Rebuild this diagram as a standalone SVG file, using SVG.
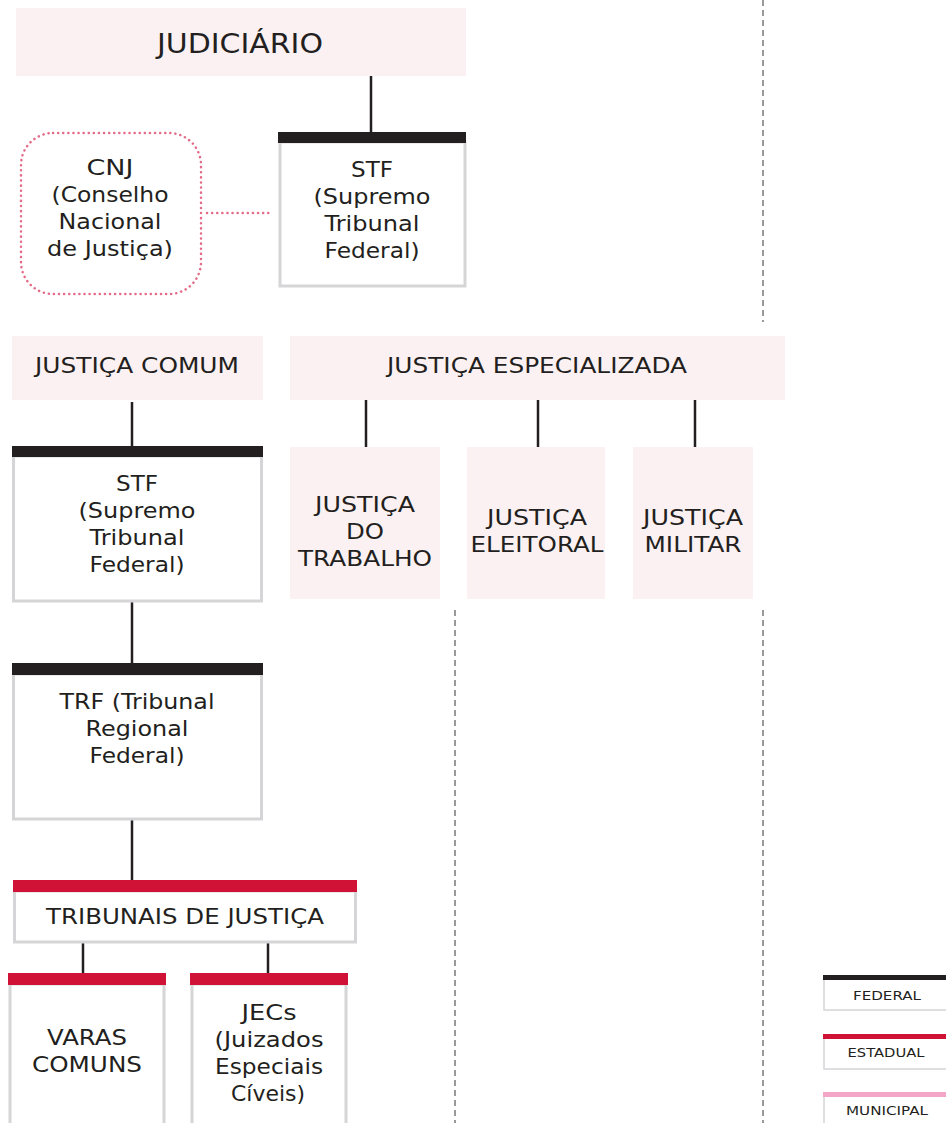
<svg xmlns="http://www.w3.org/2000/svg" width="946" height="1123" viewBox="0 0 946 1123">
<style>
text{font-family:"DejaVu Sans","Liberation Sans",sans-serif;fill:#231f20;text-anchor:middle;dominant-baseline:central}
.t{font-size:21px}
.lg{font-size:13px}
.pink{fill:#fbf1f2}
.box{fill:#fff;stroke:#d5d5d7;stroke-width:3}
.fed{fill:#231f20}
.est{fill:#d01237}
.mun{fill:#f4a6c8}
.ln{stroke:#231f20;stroke-width:2.5;fill:none}
.dash{stroke:#999;stroke-width:2;stroke-dasharray:6 4;fill:none}
.dot{stroke:#e36b87;stroke-width:2.5;stroke-dasharray:0.1 5;stroke-linecap:round;fill:none}
</style>
<rect width="946" height="1123" fill="#fff"/>
<g id="connectors">
<line class="ln" x1="371" y1="76" x2="371" y2="132"/>
<line class="dot" x1="207" y1="213" x2="273" y2="213"/>
<line class="ln" x1="132" y1="402" x2="132" y2="446"/>
<line class="ln" x1="366" y1="400" x2="366" y2="447"/>
<line class="ln" x1="538" y1="400" x2="538" y2="447"/>
<line class="ln" x1="695" y1="400" x2="695" y2="447"/>
<line class="ln" x1="132" y1="602" x2="132" y2="663"/>
<line class="ln" x1="132" y1="820" x2="132" y2="880"/>
<line class="ln" x1="83" y1="943" x2="83" y2="973"/>
<line class="ln" x1="268" y1="943" x2="268" y2="973"/>
<line class="dash" x1="763" y1="0" x2="763" y2="322"/>
<line class="dash" x1="455" y1="610" x2="455" y2="1123"/>
<line class="dash" x1="763" y1="610" x2="763" y2="1123"/>
</g>
<g id="judiciario">
<rect class="pink" x="16" y="8" width="450" height="68"/>
<text x="240" y="44" style="font-size:26px" textLength="166" lengthAdjust="spacingAndGlyphs">JUDICIÁRIO</text>
</g>
<g id="cnj">
<rect class="dot" x="21" y="133" width="180" height="161" rx="32"/>
<text class="t" x="110" y="168" textLength="47" lengthAdjust="spacingAndGlyphs">CNJ</text>
<text class="t" x="110" y="195" textLength="117" lengthAdjust="spacingAndGlyphs">(Conselho</text>
<text class="t" x="110" y="222" textLength="103" lengthAdjust="spacingAndGlyphs">Nacional</text>
<text class="t" x="110" y="249" textLength="126" lengthAdjust="spacingAndGlyphs">de Justiça)</text>
</g>
<g id="stf1">
<rect class="box" x="280" y="142" width="185" height="144"/>
<rect class="fed" x="278" y="132" width="188" height="11"/>
<text class="t" x="372" y="170" textLength="42" lengthAdjust="spacingAndGlyphs">STF</text>
<text class="t" x="372" y="197" textLength="117" lengthAdjust="spacingAndGlyphs">(Supremo</text>
<text class="t" x="372" y="224" textLength="95" lengthAdjust="spacingAndGlyphs">Tribunal</text>
<text class="t" x="372" y="251" textLength="95" lengthAdjust="spacingAndGlyphs">Federal)</text>
</g>
<g id="justica-comum">
<rect class="pink" x="12" y="336" width="251" height="64"/>
<text class="t" x="137" y="366" textLength="204" lengthAdjust="spacingAndGlyphs">JUSTIÇA COMUM</text>
</g>
<g id="justica-especializada">
<rect class="pink" x="290" y="336" width="495" height="64"/>
<text class="t" x="537" y="366" textLength="300" lengthAdjust="spacingAndGlyphs">JUSTIÇA ESPECIALIZADA</text>
</g>
<g id="stf2">
<rect class="box" x="13.5" y="456" width="248" height="145"/>
<rect class="fed" x="12" y="446" width="251" height="11"/>
<text class="t" x="137" y="484" textLength="42" lengthAdjust="spacingAndGlyphs">STF</text>
<text class="t" x="137" y="511" textLength="117" lengthAdjust="spacingAndGlyphs">(Supremo</text>
<text class="t" x="137" y="538" textLength="95" lengthAdjust="spacingAndGlyphs">Tribunal</text>
<text class="t" x="137" y="565" textLength="95" lengthAdjust="spacingAndGlyphs">Federal)</text>
</g>
<g id="trabalho">
<rect class="pink" x="290" y="447" width="150" height="152"/>
<text class="t" x="365" y="505" textLength="100" lengthAdjust="spacingAndGlyphs">JUSTIÇA</text>
<text class="t" x="365" y="532" textLength="38" lengthAdjust="spacingAndGlyphs">DO</text>
<text class="t" x="365" y="559" textLength="134" lengthAdjust="spacingAndGlyphs">TRABALHO</text>
</g>
<g id="eleitoral">
<rect class="pink" x="467" y="447" width="138" height="152"/>
<text class="t" x="537" y="518" textLength="100" lengthAdjust="spacingAndGlyphs">JUSTIÇA</text>
<text class="t" x="537" y="545" textLength="133" lengthAdjust="spacingAndGlyphs">ELEITORAL</text>
</g>
<g id="militar">
<rect class="pink" x="633" y="447" width="120" height="152"/>
<text class="t" x="693" y="518" textLength="100" lengthAdjust="spacingAndGlyphs">JUSTIÇA</text>
<text class="t" x="693" y="545" textLength="97" lengthAdjust="spacingAndGlyphs">MILITAR</text>
</g>
<g id="trf">
<rect class="box" x="13.5" y="674" width="248" height="145"/>
<rect class="fed" x="12" y="663" width="251" height="12"/>
<text class="t" x="137" y="702" textLength="155" lengthAdjust="spacingAndGlyphs">TRF (Tribunal</text>
<text class="t" x="137" y="729" textLength="103" lengthAdjust="spacingAndGlyphs">Regional</text>
<text class="t" x="137" y="756" textLength="95" lengthAdjust="spacingAndGlyphs">Federal)</text>
</g>
<g id="tribunais">
<rect class="box" x="14.5" y="891" width="341" height="51"/>
<rect class="est" x="13" y="880" width="344" height="12"/>
<text class="t" x="185" y="917" textLength="278" lengthAdjust="spacingAndGlyphs">TRIBUNAIS DE JUSTIÇA</text>
</g>
<g id="varas">
<rect class="box" x="10" y="984" width="154" height="150"/>
<rect class="est" x="8" y="973" width="158" height="12"/>
<text class="t" x="87" y="1038" textLength="80" lengthAdjust="spacingAndGlyphs">VARAS</text>
<text class="t" x="87" y="1065" textLength="110" lengthAdjust="spacingAndGlyphs">COMUNS</text>
</g>
<g id="jecs">
<rect class="box" x="192" y="984" width="154" height="150"/>
<rect class="est" x="190" y="973" width="158" height="12"/>
<text class="t" x="269" y="1013" textLength="55" lengthAdjust="spacingAndGlyphs">JECs</text>
<text class="t" x="269" y="1040" textLength="109" lengthAdjust="spacingAndGlyphs">(Juizados</text>
<text class="t" x="269" y="1067" textLength="108" lengthAdjust="spacingAndGlyphs">Especiais</text>
<text class="t" x="268" y="1094" textLength="74" lengthAdjust="spacingAndGlyphs">Cíveis)</text>
</g>
<g id="legend-federal">
<rect class="box" x="824" y="978" width="130" height="32" style="stroke-width:1.5"/>
<rect class="fed" x="823" y="975" width="123" height="5"/>
<text class="lg" x="887" y="995" textLength="68" lengthAdjust="spacingAndGlyphs">FEDERAL</text>
</g>
<g id="legend-estadual">
<rect class="box" x="824" y="1037" width="130" height="32" style="stroke-width:1.5"/>
<rect class="est" x="823" y="1034" width="123" height="5"/>
<text class="lg" x="886" y="1052" textLength="77" lengthAdjust="spacingAndGlyphs">ESTADUAL</text>
</g>
<g id="legend-municipal">
<rect class="box" x="824" y="1095" width="130" height="40" style="stroke-width:1.5"/>
<rect class="mun" x="823" y="1092" width="123" height="5"/>
<text class="lg" x="887" y="1110" textLength="82" lengthAdjust="spacingAndGlyphs">MUNICIPAL</text>
</g>
</svg>
